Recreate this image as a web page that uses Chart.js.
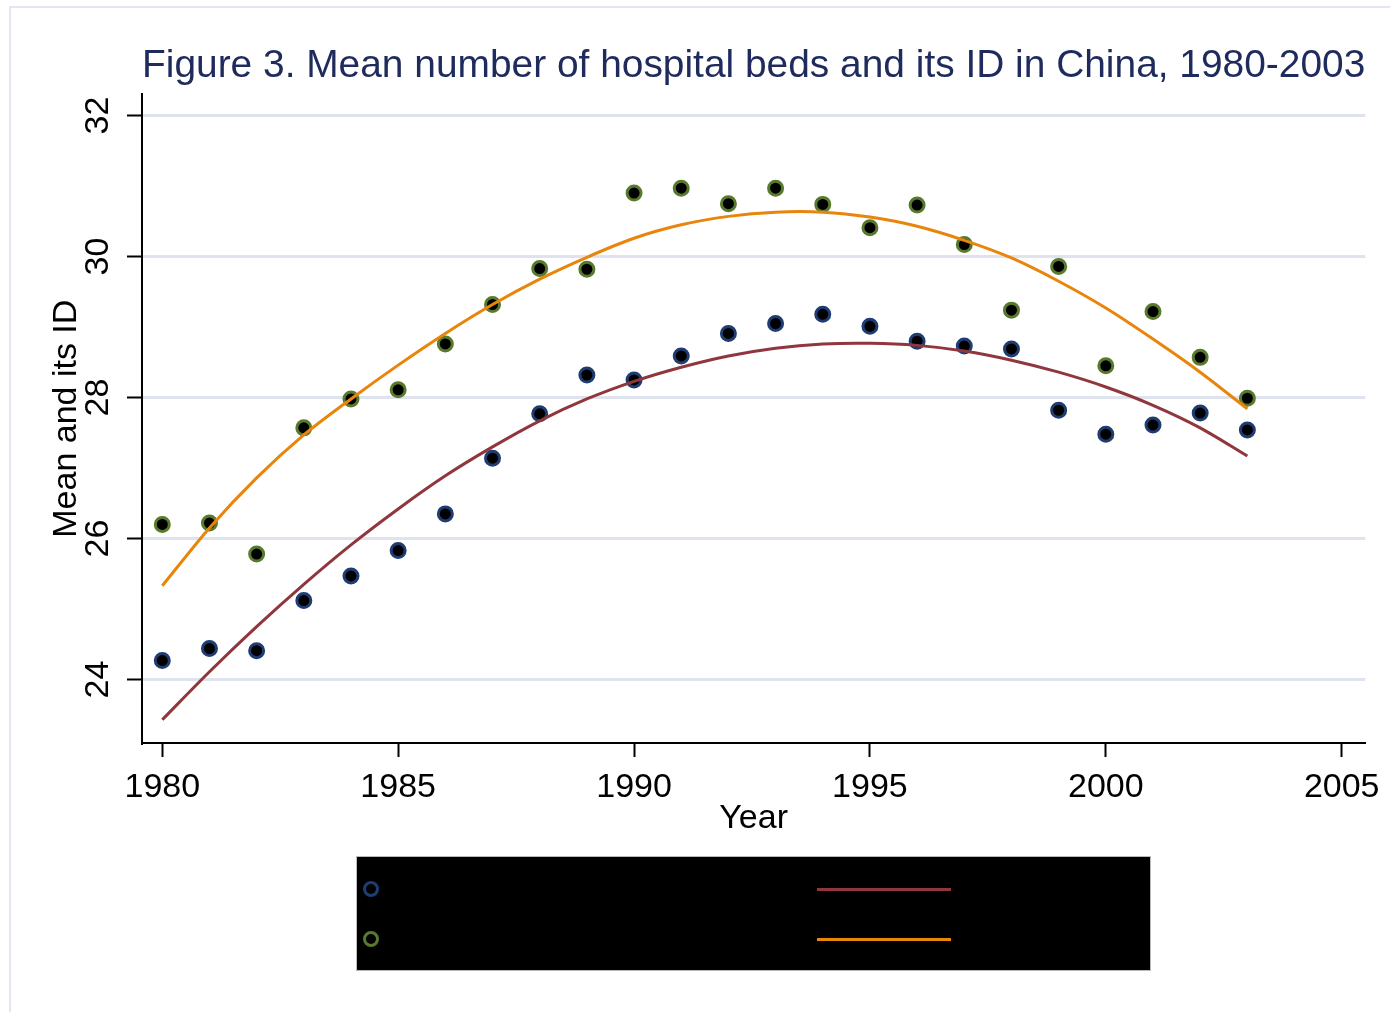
<!DOCTYPE html>
<html>
<head>
<meta charset="utf-8">
<script src="https://cdnjs.cloudflare.com/ajax/libs/Chart.js/4.4.1/chart.umd.js"></script>
<style>
  html, body { margin: 0; padding: 0; background: #fff; }
  #wrap { position: relative; width: 1390px; height: 1012px; overflow: hidden; }
  #frame { position: absolute; left: 9px; top: 6px; width: 1400px; height: 1100px;
           border-left: 2px solid #e3e6f0; border-top: 2px solid #e3e6f0; }
  #chart { position: absolute; left: 0; top: 0; }
  #legend { position: absolute; left: 356px; top: 856px; width: 793px; height: 113px;
            background: #000; border: 1px solid #bbb; font-family: 'Liberation Sans', Arial, sans-serif;
            font-size: 30px; color: #000; }
  .item { position: absolute; display: flex; align-items: center; height: 30px; }
  .mk { width: 10px; height: 10px; border-radius: 50%; border: 3px solid; margin-right: 24px; }
  .ln { width: 134px; height: 3px; margin-right: 24px; }
</style>
</head>
<body>
<div id="wrap">
  <div id="frame"></div>
  <canvas id="chart" width="1390" height="1012"></canvas>
  <div id="legend"></div>
</div>
<script>
// values
const YEARS = [1980, 1981, 1982, 1983, 1984, 1985, 1986, 1987, 1988, 1989, 1990, 1991,
               1992, 1993, 1994, 1995, 1996, 1997, 1998, 1999, 2000, 2001, 2002, 2003];
const MEAN_BEDS = [24.27, 24.44, 24.41, 25.12, 25.47, 25.83, 26.35, 27.14, 27.77, 28.32, 28.25, 28.59,
                   28.91, 29.05, 29.18, 29.01, 28.80, 28.73, 28.69, 27.82, 27.48, 27.61, 27.78, 27.54];
const FIT_MEAN = [23.43, 24.11, 24.75, 25.35, 25.91, 26.42, 26.89, 27.30, 27.67, 27.98, 28.23, 28.43,
                  28.59, 28.70, 28.76, 28.77, 28.74, 28.66, 28.53, 28.36, 28.15, 27.89, 27.57, 27.17];
const ID_BEDS = [26.20, 26.22, 25.78, 27.57, 27.98, 28.11, 28.76, 29.32, 29.83, 29.82, 30.90, 30.97,
                 30.75, 30.97, 30.74, 30.41, 30.73, 30.17, 29.24, 29.86, 28.45, 29.22, 28.57, 27.99];
const FIT_ID = [25.33, 26.15, 26.86, 27.47, 27.98, 28.46, 28.91, 29.32, 29.68, 29.99, 30.26, 30.45,
                30.57, 30.63, 30.63, 30.56, 30.43, 30.23, 29.98, 29.65, 29.27, 28.83, 28.36, 27.84];
const X_TICKS = [1980, 1985, 1990, 1995, 2000, 2005];
const Y_TICKS = [24, 26, 28, 30, 32];
const LABELS = ['Mean number of hospital beds', 'Fitted values', 'ID of hospital beds', 'Fitted values'];

const NAVY = '#1f3d73', MAROON = '#90363d', GREEN = '#587a2c', ORANGE = '#e8850a';
const FONT = "'Liberation Sans', Arial, sans-serif";

function pts(ys) {
    return YEARS.map((x, i) => ({ x, y: ys[i] }));
}

const ctx = document.getElementById('chart');
new Chart(ctx, {
    type: 'line',
    data: {
        datasets: [
            { label: LABELS[0], data: pts(MEAN_BEDS), showLine: false, pointRadius: 7, pointBorderWidth: 3,
              pointBackgroundColor: '#000', pointBorderColor: NAVY, order: 4 },
            { label: LABELS[1], data: pts(FIT_MEAN), borderColor: MAROON, borderWidth: 3, pointRadius: 0,
              tension: 0.3, order: 3 },
            { label: LABELS[2], data: pts(ID_BEDS), showLine: false, pointRadius: 7, pointBorderWidth: 3,
              pointBackgroundColor: '#000', pointBorderColor: GREEN, order: 2 },
            { label: LABELS[3], data: pts(FIT_ID), borderColor: ORANGE, borderWidth: 3, pointRadius: 0,
              tension: 0.3, order: 1 }
        ]
    },
    options: {
        responsive: false,
        animation: false,
        layout: { padding: { left: 0, right: 19, top: 0, bottom: 169 } },
        plugins: {
            legend: { display: false },
            tooltip: { enabled: false },
            title: {
                display: true,
                fullSize: false,
                text: 'Figure 3. Mean number of hospital beds and its ID in China, 1980-2003',
                color: '#1e2b5c',
                font: { family: FONT, size: 39.5, weight: 'normal' },
                padding: { top: 42, bottom: 5 }
            }
        },
        scales: {
            x: {
                type: 'linear',
                min: 1979.57,
                max: 2005.5,
                afterFit: s => { s.height = 100; },
                afterBuildTicks: s => { s.ticks = X_TICKS.map(v => ({ value: v })); },
                border: { color: '#000', width: 2 },
                grid: { drawOnChartArea: false, tickColor: '#000', tickLength: 14, tickWidth: 2 },
                ticks: { color: '#000', padding: 10, font: { family: FONT, size: 34 }, maxRotation: 0,
                         callback: v => String(v) },
                title: { display: true, text: 'Year', color: '#000', font: { family: FONT, size: 34 },
                         padding: { top: 0, bottom: 4 } }
            },
            y: {
                min: 23.1,
                max: 32.3,
                afterFit: s => { s.width = 142; },
                afterBuildTicks: s => { s.ticks = Y_TICKS.map(v => ({ value: v })); },
                border: { color: '#000', width: 2 },
                grid: { color: '#dfe3ee', lineWidth: 3, tickColor: '#000', tickLength: 15, tickWidth: 2 },
                ticks: { color: '#000', padding: 9, minRotation: 90, maxRotation: 90, crossAlign: 'center',
                         font: { family: FONT, size: 34 }, callback: v => String(v) },
                title: { display: true, text: 'Mean and its ID', color: '#000', font: { family: FONT, size: 34 },
                         padding: { top: 46, bottom: 0 } }
            }
        }
    }
});

// legend: black box, markers in column one, fitted lines in column two
const legend = document.getElementById('legend');
const legendCols = [[0, 2], [1, 3]];
const colors = [NAVY, MAROON, GREEN, ORANGE];
legendCols.forEach((col, c) => {
    col.forEach((idx, r) => {
        const el = document.createElement('div');
        el.className = 'item';
        el.style.left = (c === 0 ? 6 : 460) + 'px';
        el.style.top = (17 + r * 50) + 'px';
        const sym = document.createElement('span');
        if (c === 0) { sym.className = 'mk'; sym.style.borderColor = colors[idx]; }
        else { sym.className = 'ln'; sym.style.background = colors[idx]; }
        el.appendChild(sym);
        const t = document.createElement('span');
        t.textContent = LABELS[idx];
        el.appendChild(t);
        legend.appendChild(el);
    });
});
</script>
</body>
</html>
